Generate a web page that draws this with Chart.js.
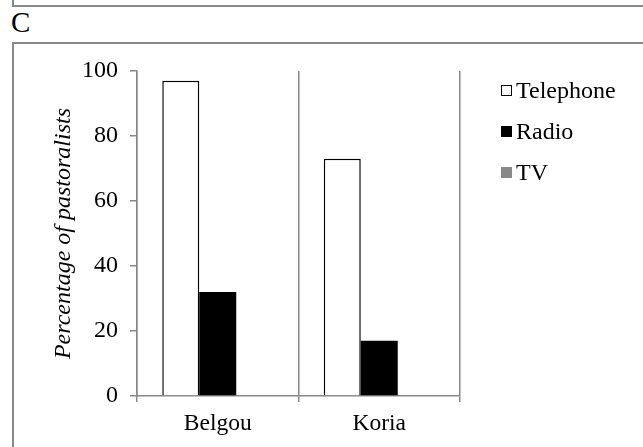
<!DOCTYPE html>
<html>
<head>
<meta charset="utf-8">
<script src="https://cdn.jsdelivr.net/npm/chart.js@4"></script>
<style>
  body { margin: 0; background: #fff; font-family: "Liberation Serif", "Times New Roman", serif; }
  #page { position: relative; width: 643px; height: 447px; overflow: hidden; }
  #prevPanel { position: absolute; left: 12px; top: -22px; width: 700px; height: 25px; border: 2px solid #888; }
  #panelLabel { position: absolute; left: 11px; top: 6px; font-size: 29px; line-height: 32px; }
  #panelBox { position: absolute; left: 12px; top: 42px; width: 700px; height: 500px; border: 2px solid #888; }
  #myChart { position: absolute; left: 0; top: 0; }
  #legend { position: absolute; left: 501px; top: 70px; font-size: 24px; font-family: "Liberation Serif", serif; }
  .item { height: 41px; line-height: 41px; white-space: nowrap; }
  .swatch { display: inline-block; width: 11px; height: 11px; box-sizing: border-box; margin-right: 4px; vertical-align: middle; position: relative; top: -2px; }
</style>
</head>
<body>
<div id="page">
  <div id="prevPanel"></div>
  <div id="panelLabel">C</div>
  <div id="panelBox"></div>
  <canvas id="myChart" width="643" height="447"></canvas>
  <div id="legend"></div>
</div>
<script>
// data
const categories = ["Belgou", "Koria"];
const telephone = [97, 73];
const radio = [32, 17];
const tv = [0, 0];

const yTicks = [0, 20, 40, 60, 80, 100];

const gray = "#888888";
const serif = "'Liberation Serif', 'Times New Roman', serif";

const datasets = [
  { label: "Telephone", data: telephone, backgroundColor: "#ffffff", borderColor: "#000000", borderWidth: 1.5 },
  { label: "Radio", data: radio, backgroundColor: "#000000", borderColor: "#000000", borderWidth: 0 },
  { label: "TV", data: tv, backgroundColor: gray, borderColor: gray, borderWidth: 0 }
];

const myChart = document.getElementById("myChart");

let barChart = new Chart(myChart, {
  type: "bar",
  data: {
    labels: categories,
    datasets: datasets
  },
  options: {
    responsive: false,
    animation: false,
    categoryPercentage: 0.687,
    barPercentage: 1,
    layout: {
      padding: { left: 40, top: 71, right: 183, bottom: 0 }
    },
    plugins: {
      legend: { display: false },
      tooltip: { enabled: false }
    },
    scales: {
      x: {
        grid: { offset: true, color: gray, lineWidth: 1.5, tickLength: 6 },
        border: { color: gray, width: 1.5 },
        ticks: { color: "#000", font: { family: serif, size: 23.5 }, padding: 8 },
        afterFit: function (scale) { scale.height = 51; }
      },
      y: {
        min: 0,
        max: 100,
        afterBuildTicks: function (scale) {
          scale.ticks = yTicks.map(v => ({ value: v }));
        },
        grid: { drawOnChartArea: false, color: gray, lineWidth: 1.5, tickLength: 7 },
        border: { color: gray, width: 1.5 },
        ticks: { color: "#000", font: { family: serif, size: 24 }, padding: 12 },
        title: {
          display: true,
          text: "Percentage of pastoralists",
          color: "#000",
          font: { family: serif, size: 24, style: "italic" },
          padding: { top: 9, bottom: 0 }
        },
        afterFit: function (scale) { scale.width = 97; }
      }
    }
  }
});

// legend built from the datasets
const legend = document.getElementById("legend");
datasets.forEach(ds => {
  const row = document.createElement("div");
  row.className = "item";
  const sw = document.createElement("span");
  sw.className = "swatch";
  sw.style.background = ds.backgroundColor;
  if (ds.borderWidth > 0) sw.style.border = "1.5px solid " + ds.borderColor;
  row.appendChild(sw);
  row.appendChild(document.createTextNode(ds.label));
  legend.appendChild(row);
});
</script>
</body>
</html>
